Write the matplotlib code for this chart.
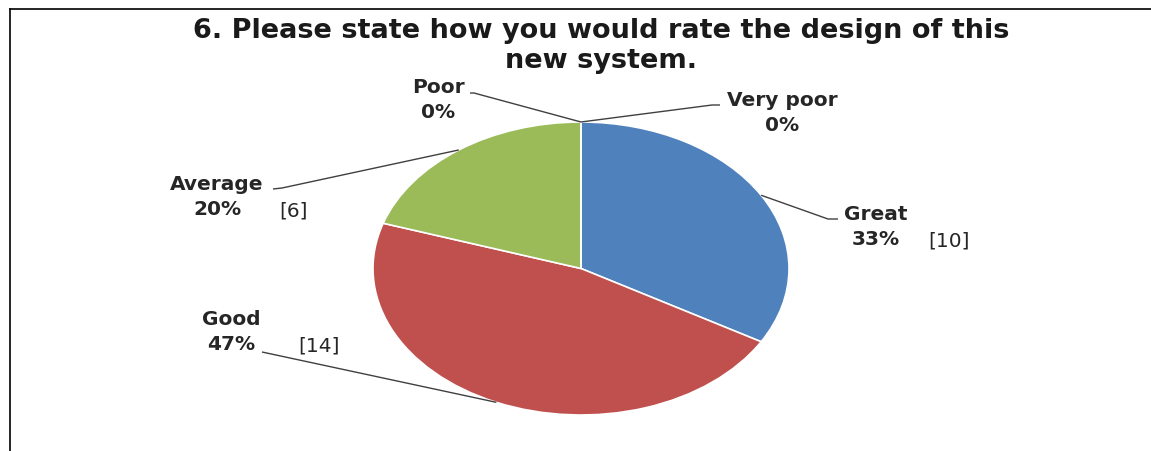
import matplotlib.pyplot as plt
import numpy as np
from matplotlib.lines import Line2D

categories = ["Great", "Good", "Average", "Poor", "Very poor"]
counts = [10, 14, 6, 0, 0]
percent_labels = ["33%", "47%", "20%", "0%", "0%"]
count_labels = ["[10]", "[14]", "[6]", "", ""]
colors = ["#4F81BD", "#C0504D", "#9BBB59", "#8064A2", "#4BACC6"]

title = "6. Please state how you would rate the design of this\nnew system."

W, H = 1151, 451
fig = plt.figure(figsize=(W / 100, H / 100), dpi=100)
ax = fig.add_axes([0, 0, 1, 1])

# pie centre and radii in pixels, axes limits chosen so the circle becomes an ellipse
cx, cy, rx, ry = 581, 268.5, 208, 146.5
ax.pie(counts, colors=colors, startangle=90, counterclock=False, radius=1,
       wedgeprops=dict(edgecolor="white", linewidth=1.2))
ax.set_aspect("auto")
ax.set_xlim(-cx / rx, (W - cx) / rx)
ax.set_ylim(-(H - cy) / ry, cy / ry)
ax.axis("off")


def px(x, y):
    return (x - cx) / rx, (cy - y) / ry


# mid-angle of each wedge (degrees), going clockwise from 12 o'clock
total = sum(counts)
mids = []
start = 90.0
for c in counts:
    sweep = 360.0 * c / total
    mids.append(start - sweep / 2)
    start -= sweep

# label centre, bracket centre, leader start (pixels)
label_pos = {
    "Great": ((876, 227), (949, 241), [(838, 219), (828, 219)]),
    "Good": ((231, 332), (319, 346), [(262, 352)]),
    "Average": ((217, 197), (294, 211), [(273, 189), (282, 188)]),
    "Poor": ((438, 100), None, [(470, 93), (474, 93)]),
    "Very poor": ((782, 113), None, [(720, 105), (712, 105)]),
}

lab_font = dict(fontsize=14.5, fontweight="bold", color="#262626", family="DejaVu Sans")
for i, name in enumerate(categories):
    (lx, ly), bpos, lead = label_pos[name]
    ax.text(*px(lx, ly), f"{name}\n{percent_labels[i]}", ha="center", va="center",
            linespacing=1.45, **lab_font)
    if bpos is not None:
        ax.text(*px(*bpos), count_labels[i], ha="center", va="center",
                fontsize=14.5, color="#262626", family="DejaVu Sans")
    a = np.radians(mids[i])
    end = (np.cos(a), np.sin(a))
    pts = [px(*p) for p in lead] + [end]
    xs, ys = zip(*pts)
    ax.plot(xs, ys, color="#404040", lw=1.0, solid_capstyle="butt")

fig.text(601 / W, 1 - 46 / H, title, ha="center", va="center", fontsize=19.5,
         fontweight="bold", color="#1a1a1a", family="DejaVu Sans", linespacing=1.25)

# partial frame: top and left edges only
fig.add_artist(Line2D([10 / W, 1], [1 - 9 / H, 1 - 9 / H], color="black", lw=1.2))
fig.add_artist(Line2D([10 / W, 10 / W], [0, 1 - 9 / H], color="black", lw=1.2))

fig.savefig("out.png", dpi=100)
